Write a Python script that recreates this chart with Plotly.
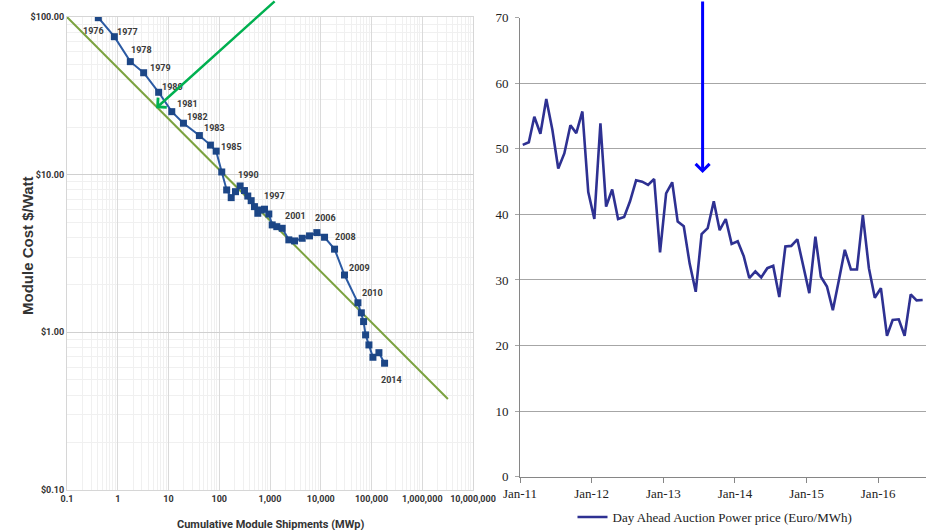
import numpy as np
import pandas as pd
import plotly.graph_objects as go

# ---------------- Left chart data: PV module learning curve ----------------
shipments_mwp = [0.414, 0.857, 1.77, 3.24, 6.4, 11.6, 19.7, 40.6, 67, 86.9, 112,
                 140, 172, 209, 258, 314, 365, 426, 494, 575, 670, 779, 948, 1105, 1361, 1741,
                 2350, 3040, 4310, 6010, 8380, 11880, 18700, 29400,
                 54000, 63000, 69800, 76500, 89000, 106700, 140000, 181000]
module_cost = [99, 75, 52.1, 44.3, 33.3, 25.1, 21.2, 17.7, 15.4, 14.1, 10.4,
               8.0, 7.15, 7.8, 8.48, 7.93, 7.32, 6.84, 6.27, 5.69, 5.97, 6.04, 5.63, 4.80, 4.68, 4.57,
               3.86, 3.80, 3.95, 4.09, 4.29, 4.01, 3.37, 2.31,
               1.54, 1.33, 1.17, 0.963, 0.832, 0.695, 0.743, 0.637]
point_labels = ['1976', '1977', '1978', '1979', '1980', '1981', '1982', '1983', '', '1985', '',
                '', '', '', '1990', '', '', '', '', '', '', '1997', '', '', '', '2001',
                '', '', '', '', '2006', '', '2008', '2009',
                '2010', '', '', '', '', '', '', '2014']
trend_shipments = [0.1, 3.2e6]
trend_cost = [100, 0.378]
left_x_tickvals = [0.1, 1, 10, 100, 1000, 10000, 100000, 1000000, 10000000]
left_x_ticktext = ['0.1', '1', '10', '100', '1,000', '10,000', '100,000', '1,000,000', '10,000,000']
left_y_tickvals = [0.1, 1, 10, 100]
left_y_ticktext = ['$0.10', '$1.00', '$10.00', '$100.00']
green_arrow_tip = (5.7, 26.4)

# ---------------- Right chart data: day-ahead power price ----------------
price_months = pd.date_range('2011-01-01', periods=68, freq='MS') + pd.Timedelta(days=14)
price_eur_mwh = [50.6, 51.0, 54.9, 52.3, 57.6, 52.9, 47.0, 49.3, 53.6, 52.4, 55.7, 43.4,
                 39.3, 53.9, 41.2, 43.8, 39.3, 39.6, 42.0, 45.2, 45.0, 44.5, 45.4, 34.2,
                 43.2, 44.9, 38.9, 38.2, 32.5, 28.2, 37.0, 37.9, 42.0, 37.6, 39.3, 35.5,
                 35.9, 33.6, 30.3, 31.3, 30.4, 31.8, 32.15, 27.4, 35.1, 35.2, 36.2, 32.0,
                 28.0, 36.6, 30.5, 29.0, 25.4, 30.0, 34.6, 31.6, 31.6, 39.9, 31.8, 27.3,
                 28.75, 21.5, 23.9, 24.0, 21.5, 27.8, 26.9, 26.95]
blue_arrow_tip = ('2013-07-20', 46.3)

# label offsets (px) relative to their point: (dx right, dy down)
label_offsets = {'1976': (-5, 13), '1977': (13, -5), '1978': (11, -12), '1979': (17, -5),
                 '1980': (14, -5), '1981': (16, -8), '1982': (14, -6), '1983': (15, -8),
                 '1985': (15, -4), '1990': (8, -11), '1997': (10, -13), '2001': (13, -12),
                 '2006': (9, -15), '2008': (11, -12), '2009': (15, -7), '2010': (15, -10),
                 '2014': (7, 17)}

W, H = 930, 530
narrow = 'Liberation Sans Narrow, Arial Narrow, Roboto, Liberation Sans, Arial'
serif = 'Liberation Serif, Times New Roman, serif'

fig = go.Figure()

fig.add_trace(go.Scatter(x=trend_shipments, y=trend_cost, mode='lines',
                         line=dict(color='#7BA23F', width=2), xaxis='x', yaxis='y',
                         showlegend=False, hoverinfo='skip'))
fig.add_trace(go.Scatter(x=shipments_mwp, y=module_cost, mode='lines+markers',
                         line=dict(color='#2B5AA3', width=2),
                         marker=dict(symbol='square', size=7, color='#1C4686'),
                         xaxis='x', yaxis='y', showlegend=False))

fig.add_trace(go.Scatter(x=price_months, y=price_eur_mwh, mode='lines',
                         line=dict(color='#2E3192', width=2.6),
                         name='Day Ahead Auction Power price (Euro/MWh)',
                         xaxis='x2', yaxis='y2', showlegend=True))

annotations = []
for xv, yv, lab in zip(shipments_mwp, module_cost, point_labels):
    if lab:
        dx, dy = label_offsets[lab]
        annotations.append(dict(x=np.log10(xv), y=np.log10(yv), xref='x', yref='y',
                                text='<b>' + lab + '</b>', showarrow=False, xshift=dx, yshift=-dy,
                                font=dict(family=narrow, size=9, color='#3A3A3A')))

# green arrow (left)
annotations.append(dict(x=np.log10(green_arrow_tip[0]), y=np.log10(green_arrow_tip[1]),
                        xref='x', yref='y', text='', showarrow=True,
                        ax=120, ay=-112, axref='pixel', ayref='pixel',
                        arrowhead=4, arrowsize=1.0, arrowwidth=2.5, arrowcolor='#00B050'))
# blue arrow (right)
annotations.append(dict(x=blue_arrow_tip[0], y=blue_arrow_tip[1], xref='x2', yref='y2',
                        text='', showarrow=True, ax=0, ay=-178,
                        arrowhead=4, arrowsize=0.9, arrowwidth=3, arrowcolor='#0000FF'))

# left axis titles
annotations.append(dict(x=27 / W, y=1 - 246 / H, xref='paper', yref='paper',
                        xanchor='center', yanchor='middle',
                        text='<b>Module Cost $/Watt</b>', textangle=-90, showarrow=False,
                        font=dict(family='Liberation Sans, Arial', size=15, color='#333333')))
annotations.append(dict(x=270 / W, y=1 - 524 / H, xref='paper', yref='paper',
                        xanchor='center', yanchor='middle',
                        text='<b>Cumulative Module Shipments (MWp)</b>', showarrow=False,
                        font=dict(family=narrow, size=11, color='#333333')))

minor_x = [m * 10.0 ** k for k in range(-1, 7) for m in range(2, 10)]
minor_y = [m * 10.0 ** k for k in range(-1, 2) for m in range(2, 10)]

fig.update_layout(
    width=W, height=H, margin=dict(l=0, r=0, t=0, b=0, autoexpand=False),
    paper_bgcolor='white', plot_bgcolor='white',
    annotations=annotations,
    xaxis=dict(type='log', range=[-1, 7], domain=[67 / W, 473 / W], anchor='y',
               automargin=False,
               tickvals=left_x_tickvals, ticktext=['<b>' + t + '</b>' for t in left_x_ticktext],
               showgrid=True, gridcolor='#DADADA', gridwidth=1,
               minor=dict(tickvals=minor_x, showgrid=True, gridcolor='#F0F0F0', gridwidth=1),
               showline=True, linecolor='#D6D6D6', mirror=True, zeroline=False, ticks='',
               tickfont=dict(family=narrow, size=9, color='#333333')),
    yaxis=dict(type='log', range=[-1, 2], domain=[1 - 490 / H, 1 - 17 / H], anchor='x',
               automargin=False,
               tickvals=left_y_tickvals, ticktext=['<b>' + t + '</b>' for t in left_y_ticktext],
               showgrid=True, gridcolor='#D0D0D0', gridwidth=1,
               minor=dict(tickvals=minor_y, showgrid=True, gridcolor='#F0F0F0', gridwidth=1),
               showline=True, linecolor='#D6D6D6', mirror=True, zeroline=False, ticks='',
               tickfont=dict(family=narrow, size=9, color='#333333')),
    xaxis2=dict(type='date', range=['2011-01-01', '2016-09-01'],
                domain=[520 / W, 926 / W], anchor='y2', automargin=False,
                tick0='2011-01-01', dtick='M12', tickformat='%b-%y',
                ticks='outside', ticklen=5, tickcolor='#868686',
                showline=True, linecolor='#868686', linewidth=1, showgrid=False,
                zeroline=False, tickfont=dict(family=serif, size=13, color='#222222')),
    yaxis2=dict(range=[0, 70], dtick=10, domain=[1 - 476.7 / H, 1 - 17.7 / H], anchor='x2',
                automargin=False,
                showgrid=True, gridcolor='#A6A6A6', gridwidth=1,
                showline=True, linecolor='#868686', zeroline=False,
                ticks='outside', ticklen=4, tickcolor='#A6A6A6', ticklabelstandoff=4,
                tickfont=dict(family=serif, size=13, color='#222222')),
    legend=dict(orientation='h', x=715 / W, xanchor='center', y=1 - 517 / H, yanchor='middle',
                font=dict(family=serif, size=13, color='#222222'),
                bgcolor='rgba(0,0,0,0)'),
    showlegend=True,
)

fig.write_html('out.html', config={'displayModeBar': False},
               post_script="document.body.style.margin='0';document.body.style.overflow='hidden';")
